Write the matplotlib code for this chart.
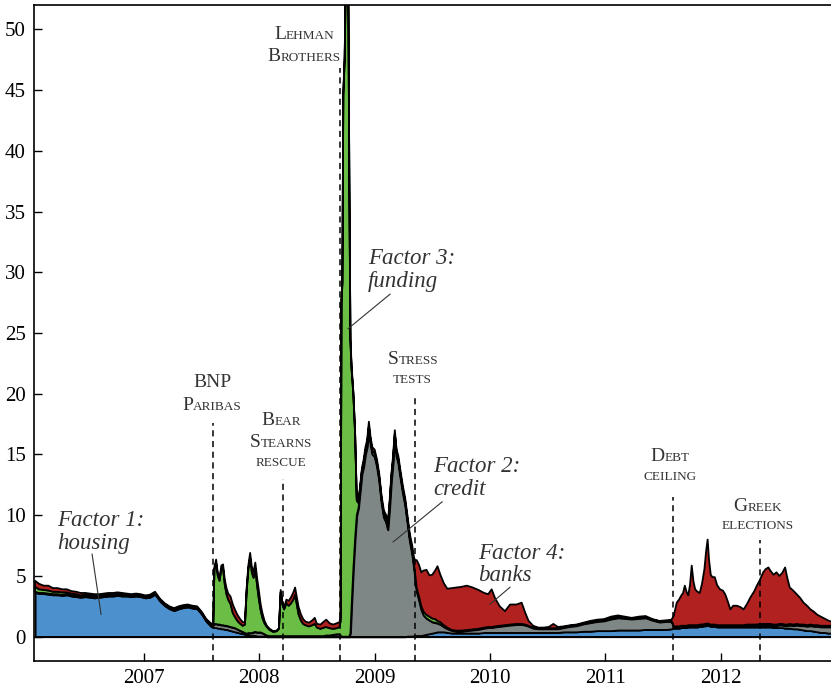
import numpy as np
import matplotlib
matplotlib.use("Agg")
import matplotlib.pyplot as plt
from matplotlib.offsetbox import TextArea, HPacker, VPacker, AnnotationBbox

plt.rcParams["font.family"] = ["Liberation Serif", "DejaVu Serif"]

# ── data (decimal years; layer thickness, stacked bottom to top) ─────────────
DATES = [
    # 2006 .. BNP
    2006.055, 2006.09, 2006.13, 2006.17, 2006.21, 2006.25, 2006.29, 2006.33, 2006.37, 2006.41,
    2006.45, 2006.49, 2006.53, 2006.57, 2006.61, 2006.65, 2006.69, 2006.73, 2006.77, 2006.81,
    2006.85, 2006.89, 2006.93, 2006.97, 2007.01, 2007.05, 2007.095, 2007.14, 2007.18, 2007.22,
    2007.26, 2007.30, 2007.34, 2007.38, 2007.42, 2007.46, 2007.50, 2007.54, 2007.58, 2007.60,
    # BNP .. Lehman
    2007.61, 2007.625, 2007.64, 2007.655, 2007.67, 2007.685, 2007.70, 2007.715, 2007.73, 2007.75,
    2007.77, 2007.79, 2007.81, 2007.83, 2007.855, 2007.875, 2007.89, 2007.905, 2007.92, 2007.935,
    2007.95, 2007.965, 2007.98, 2007.995, 2008.01, 2008.025, 2008.045, 2008.065, 2008.09, 2008.12,
    2008.15, 2008.17, 2008.185, 2008.20, 2008.215, 2008.235, 2008.255, 2008.275, 2008.295, 2008.31,
    2008.325, 2008.34, 2008.36, 2008.38, 2008.40, 2008.43, 2008.46, 2008.48, 2008.50, 2008.53,
    2008.56, 2008.58, 2008.61, 2008.64, 2008.67, 2008.695,
    # Lehman spike and credit hump
    2008.705, 2008.712, 2008.72, 2008.728, 2008.74, 2008.752, 2008.768, 2008.78, 2008.79, 2008.80,
    2008.815, 2008.83, 2008.845, 2008.86, 2008.875, 2008.89, 2008.905, 2008.92, 2008.935, 2008.95,
    2008.965, 2008.98, 2009.00, 2009.02, 2009.04, 2009.06, 2009.08, 2009.10, 2009.115, 2009.13,
    2009.145, 2009.16, 2009.175, 2009.19, 2009.205, 2009.225, 2009.245, 2009.265, 2009.285, 2009.305,
    2009.325, 2009.345,
    # stress tests .. end
    2009.365, 2009.385, 2009.405, 2009.425, 2009.45, 2009.475, 2009.50, 2009.525, 2009.545, 2009.57,
    2009.60, 2009.63, 2009.67, 2009.71, 2009.75, 2009.80, 2009.85, 2009.90, 2009.95, 2009.985,
    2010.015, 2010.045, 2010.085, 2010.13, 2010.175, 2010.23, 2010.275, 2010.305, 2010.335, 2010.375,
    2010.42, 2010.465, 2010.51, 2010.55, 2010.59, 2010.64, 2010.70, 2010.75, 2010.81, 2010.87,
    2010.93, 2010.99, 2011.05, 2011.11, 2011.17, 2011.23, 2011.29, 2011.35, 2011.41, 2011.47,
    2011.53, 2011.575, 2011.595, 2011.62, 2011.64, 2011.66, 2011.675, 2011.69, 2011.705, 2011.72,
    2011.735, 2011.75, 2011.765, 2011.78, 2011.80, 2011.82, 2011.84, 2011.86, 2011.875, 2011.888,
    2011.90, 2011.915, 2011.93, 2011.95, 2011.97, 2011.995, 2012.02, 2012.04, 2012.065, 2012.085,
    2012.11, 2012.14, 2012.17, 2012.20, 2012.23, 2012.26, 2012.29, 2012.315, 2012.34, 2012.37,
    2012.39, 2012.415, 2012.435, 2012.46, 2012.485, 2012.51, 2012.535, 2012.56, 2012.58, 2012.60,
    2012.63, 2012.66, 2012.69, 2012.72, 2012.75, 2012.78, 2012.81, 2012.84, 2012.87, 2012.90,
    2012.93, 2012.97,
]

HOUSING = [
    3.65, 3.55, 3.55, 3.50, 3.45, 3.45, 3.40, 3.45, 3.35, 3.30,
    3.25, 3.30, 3.25, 3.20, 3.25, 3.30, 3.35, 3.35, 3.40, 3.35,
    3.35, 3.30, 3.35, 3.30, 3.20, 3.25, 3.50, 2.90, 2.55, 2.30,
    2.15, 2.30, 2.40, 2.45, 2.35, 2.30, 1.85, 1.25, 0.85, 0.80,
    0.75, 0.75, 0.70, 0.70, 0.65, 0.65, 0.60, 0.60, 0.55, 0.50,
    0.45, 0.40, 0.35, 0.30, 0.25, 0.20, 0.15, 0.15, 0.10, 0.10,
    0.10, 0.10, 0.05, 0.05, 0.05, 0.05, 0.05, 0.0, 0.0, 0.0,
    0.0, 0.0, 0.0, 0.0, 0.0, 0.0, 0.0, 0.0, 0.0, 0.0,
    0.0, 0.0, 0.0, 0.0, 0.0, 0.0, 0.0, 0.0, 0.0, 0.0,
    0.0, 0.0, 0.0, 0.0, 0.0, 0.0,
    0.0, 0.0, 0.0, 0.0, 0.0, 0.0, 0.0, 0.0, 0.0, 0.0,
    0.0, 0.0, 0.0, 0.0, 0.0, 0.0, 0.0, 0.0, 0.0, 0.0,
    0.0, 0.0, 0.0, 0.0, 0.0, 0.0, 0.0, 0.0, 0.0, 0.0,
    0.0, 0.0, 0.0, 0.0, 0.0, 0.0, 0.0, 0.0, 0.05, 0.05,
    0.05, 0.10,
    0.10, 0.10, 0.10, 0.15, 0.20, 0.25, 0.30, 0.35, 0.40, 0.40,
    0.40, 0.35, 0.30, 0.30, 0.30, 0.30, 0.30, 0.30, 0.35, 0.35,
    0.35, 0.35, 0.35, 0.35, 0.35, 0.35, 0.35, 0.35, 0.35, 0.35,
    0.35, 0.35, 0.35, 0.35, 0.35, 0.40, 0.40, 0.40, 0.45, 0.45,
    0.50, 0.50, 0.50, 0.55, 0.55, 0.55, 0.55, 0.60, 0.60, 0.60,
    0.60, 0.65, 0.70, 0.70, 0.70, 0.75, 0.75, 0.75, 0.75, 0.80,
    0.80, 0.80, 0.80, 0.80, 0.80, 0.85, 0.85, 0.90, 0.90, 0.95,
    0.90, 0.85, 0.85, 0.85, 0.80, 0.80, 0.80, 0.80, 0.80, 0.80,
    0.80, 0.80, 0.80, 0.80, 0.80, 0.80, 0.80, 0.80, 0.80, 0.80,
    0.80, 0.80, 0.80, 0.75, 0.75, 0.75, 0.75, 0.70, 0.70, 0.70,
    0.65, 0.65, 0.60, 0.55, 0.50, 0.50, 0.45, 0.40, 0.35, 0.35,
    0.30, 0.30,
]

CREDIT = [
    0.05, 0.05, 0.05, 0.05, 0.05, 0.05, 0.05, 0.05, 0.05, 0.05,
    0.05, 0.05, 0.05, 0.05, 0.05, 0.05, 0.05, 0.05, 0.05, 0.05,
    0.05, 0.05, 0.05, 0.05, 0.05, 0.05, 0.05, 0.05, 0.05, 0.05,
    0.05, 0.05, 0.05, 0.05, 0.05, 0.05, 0.05, 0.05, 0.10, 0.15,
    0.30, 0.30, 0.30, 0.30, 0.30, 0.30, 0.30, 0.30, 0.30, 0.30,
    0.30, 0.30, 0.25, 0.20, 0.15, 0.10, 0.10, 0.15, 0.20, 0.20,
    0.25, 0.30, 0.30, 0.30, 0.30, 0.25, 0.15, 0.10, 0.05, 0.05,
    0.05, 0.05, 0.05, 0.05, 0.05, 0.05, 0.05, 0.05, 0.05, 0.05,
    0.05, 0.05, 0.05, 0.05, 0.05, 0.05, 0.05, 0.05, 0.05, 0.05,
    0.05, 0.10, 0.10, 0.15, 0.20, 0.20,
    0.10, 0.0, 0.0, 0.0, 0.0, 0.0, 0.0, 0.0, 0.30, 2.50,
    5.50, 8.00, 10.0, 10.6, 12.0, 13.4, 14.0, 15.0, 15.6, 17.0,
    15.8, 15.0, 14.8, 14.0, 12.8, 11.0, 9.80, 9.40, 8.80, 10.6,
    12.8, 14.3, 16.4, 14.8, 14.3, 13.0, 11.8, 10.8, 9.30, 7.80,
    6.80, 5.30,
    3.60, 2.90, 2.10, 1.60, 1.30, 1.10, 0.90, 0.80, 0.70, 0.60,
    0.40, 0.30, 0.20, 0.15, 0.15, 0.20, 0.25, 0.30, 0.35, 0.40,
    0.40, 0.45, 0.50, 0.55, 0.60, 0.65, 0.65, 0.60, 0.50, 0.35,
    0.30, 0.30, 0.30, 0.30, 0.30, 0.35, 0.45, 0.50, 0.60, 0.70,
    0.75, 0.80, 0.95, 1.00, 0.95, 0.90, 0.95, 0.95, 0.75, 0.60,
    0.65, 0.60, 0.10, 0.10, 0.10, 0.10, 0.10, 0.10, 0.10, 0.10,
    0.10, 0.10, 0.10, 0.10, 0.10, 0.10, 0.10, 0.10, 0.10, 0.10,
    0.10, 0.10, 0.10, 0.10, 0.10, 0.10, 0.10, 0.10, 0.10, 0.10,
    0.10, 0.10, 0.10, 0.10, 0.15, 0.15, 0.15, 0.15, 0.15, 0.15,
    0.15, 0.15, 0.15, 0.15, 0.15, 0.20, 0.20, 0.20, 0.20, 0.25,
    0.25, 0.30, 0.30, 0.35, 0.35, 0.40, 0.40, 0.45, 0.45, 0.45,
    0.50, 0.50,
]

FUNDING = [
    0.40, 0.30, 0.25, 0.25, 0.20, 0.20, 0.20, 0.15, 0.15, 0.15,
    0.10, 0.10, 0.10, 0.10, 0.05, 0.05, 0.05, 0.05, 0.05, 0.05,
    0.05, 0.05, 0.05, 0.05, 0.05, 0.05, 0.05, 0.05, 0.05, 0.05,
    0.05, 0.05, 0.05, 0.05, 0.05, 0.05, 0.05, 0.05, 0.05, 0.05,
    4.50, 5.00, 4.00, 3.60, 4.60, 4.70, 3.40, 2.60, 2.20, 1.90,
    1.20, 0.90, 0.70, 0.60, 0.50, 0.70, 3.50, 5.30, 6.20, 5.00,
    4.50, 5.20, 3.90, 2.80, 1.90, 1.30, 0.90, 0.70, 0.50, 0.35,
    0.40, 0.60, 3.60, 2.60, 2.20, 2.70, 2.50, 2.70, 3.00, 3.40,
    2.60, 1.80, 1.30, 1.00, 0.90, 0.80, 0.90, 1.00, 0.70, 0.60,
    0.70, 0.70, 0.60, 0.50, 0.50, 0.60,
    1.20, 27.5, 29.0, 44.5, 47.5, 56.0, 60.0, 38.0, 24.0, 19.5,
    14.5, 8.80, 1.20, 0.40, 0.30, 0.30, 0.30, 0.30, 0.30, 0.30,
    0.30, 0.30, 0.30, 0.30, 0.30, 0.30, 0.30, 0.30, 0.30, 0.30,
    0.30, 0.30, 0.30, 0.30, 0.30, 0.30, 0.30, 0.30, 0.30, 0.30,
    0.30, 0.30,
    0.30, 0.30, 0.30, 0.30, 0.30, 0.30, 0.30, 0.30, 0.20, 0.20,
    0.15, 0.10, 0.05, 0.05, 0.05, 0.05, 0.05, 0.05, 0.05, 0.05,
    0.05, 0.05, 0.05, 0.05, 0.05, 0.05, 0.05, 0.05, 0.05, 0.05,
    0.05, 0.05, 0.05, 0.05, 0.05, 0.05, 0.05, 0.05, 0.05, 0.05,
    0.05, 0.05, 0.05, 0.05, 0.05, 0.05, 0.05, 0.05, 0.05, 0.05,
    0.05, 0.05, 0.05, 0.05, 0.05, 0.05, 0.05, 0.05, 0.05, 0.05,
    0.05, 0.05, 0.05, 0.05, 0.05, 0.05, 0.05, 0.05, 0.05, 0.05,
    0.05, 0.05, 0.05, 0.05, 0.05, 0.05, 0.05, 0.05, 0.05, 0.05,
    0.05, 0.05, 0.05, 0.05, 0.05, 0.05, 0.05, 0.05, 0.10, 0.10,
    0.10, 0.10, 0.10, 0.10, 0.10, 0.10, 0.10, 0.10, 0.10, 0.10,
    0.10, 0.10, 0.10, 0.10, 0.10, 0.10, 0.10, 0.10, 0.10, 0.10,
    0.10, 0.10,
]

BANKS = [
    0.50, 0.45, 0.35, 0.40, 0.30, 0.30, 0.25, 0.25, 0.20, 0.20,
    0.20, 0.15, 0.15, 0.15, 0.15, 0.15, 0.15, 0.15, 0.15, 0.15,
    0.10, 0.10, 0.10, 0.10, 0.10, 0.10, 0.10, 0.10, 0.10, 0.10,
    0.10, 0.10, 0.10, 0.10, 0.10, 0.10, 0.10, 0.10, 0.10, 0.05,
    0.20, 0.30, 0.20, 0.20, 0.30, 0.30, 0.40, 0.50, 0.50, 0.60,
    0.70, 0.60, 0.50, 0.40, 0.30, 0.20, 0.30, 0.30, 0.40, 0.40,
    0.50, 0.50, 0.60, 0.70, 0.50, 0.40, 0.20, 0.10, 0.10, 0.05,
    0.05, 0.05, 0.20, 0.20, 0.20, 0.30, 0.40, 0.50, 0.60, 0.60,
    0.60, 0.60, 0.50, 0.40, 0.30, 0.30, 0.40, 0.50, 0.30, 0.35,
    0.50, 0.60, 0.40, 0.35, 0.40, 0.40,
    0.30, 0.30, 0.30, 0.30, 0.30, 0.30, 0.30, 0.30, 0.30, 0.30,
    0.20, 0.20, 0.20, 0.20, 0.20, 0.20, 0.30, 0.30, 0.30, 0.40,
    0.30, 0.30, 0.30, 0.30, 0.30, 0.30, 0.30, 0.30, 0.30, 0.30,
    0.30, 0.30, 0.30, 0.30, 0.30, 0.30, 0.30, 0.30, 0.30, 0.30,
    0.40, 0.60,
    2.30, 2.60, 2.80, 3.40, 3.70, 3.40, 3.60, 4.00, 4.50, 3.90,
    3.45, 3.20, 3.45, 3.55, 3.60, 3.65, 3.45, 3.20, 2.85, 2.70,
    3.10, 2.30, 1.60, 1.15, 1.65, 1.60, 1.75, 1.00, 0.40, 0.15,
    0.05, 0.05, 0.10, 0.35, 0.10, 0.05, 0.05, 0.05, 0.05, 0.10,
    0.10, 0.10, 0.15, 0.15, 0.10, 0.05, 0.10, 0.10, 0.05, 0.05,
    0.05, 0.10, 0.90, 1.95, 2.20, 2.50, 2.70, 3.30, 2.80, 2.45,
    3.30, 4.90, 3.60, 2.95, 2.75, 2.60, 3.40, 4.50, 6.00, 6.90,
    5.30, 4.10, 3.90, 3.90, 3.30, 2.95, 2.85, 2.55, 1.90, 1.30,
    1.60, 1.60, 1.50, 1.30, 1.70, 2.25, 2.70, 3.20, 3.60, 4.25,
    4.50, 4.65, 4.35, 4.10, 4.30, 3.95, 4.20, 4.70, 3.80, 3.00,
    2.80, 2.45, 2.20, 1.80, 1.60, 1.25, 1.10, 0.85, 0.75, 0.60,
    0.45, 0.30,
]

EVENTS = [2007.60, 2008.205, 2008.70, 2009.35, 2011.585, 2012.34]
EVENT_TOPS = [17.6, 13.0, 46.8, 19.95, 11.5, 8.0]
EVENT_LABELS = [["BNP", "Paribas"], ["Bear", "Stearns", "rescue"],
                ["Lehman", "Brothers"], ["Stress", "tests"],
                ["Debt", "ceiling"], ["Greek", "elections"]]
EVENT_LABEL_POS = [(2007.59, 18.35), (2008.19, 13.8), (2008.39, 47.05),
                   (2009.33, 20.65), (2011.56, 12.65), (2012.325, 8.6)]

FACTOR_TEXT = ["Factor 1:\nhousing", "Factor 3:\nfunding",
               "Factor 2:\ncredit", "Factor 4:\nbanks"]
FACTOR_TEXT_POS = [(2006.245, 10.4), (2008.943, 31.97),
                   (2009.507, 14.85), (2009.897, 7.75)]
FACTOR_POINTERS = [((2006.549, 6.8), (2006.627, 1.84)),
                   ((2009.134, 28.2), (2008.769, 25.35)),
                   ((2009.585, 11.1), (2009.16, 7.8)),
                   ((2010.174, 4.07), (2010.0, 2.67))]

COLORS = ["#4c91cd", "#7e8786", "#6abd45", "#b1211f"]
TEXT_GREY = "#333333"

for name, arr in [("housing", HOUSING), ("credit", CREDIT),
                  ("funding", FUNDING), ("banks", BANKS)]:
    assert len(arr) == len(DATES), (name, len(arr), len(DATES))


def small_caps(lines, big=14, small=9.5, color=TEXT_GREY):
    rows = []
    for line in lines:
        parts = []
        for word in line.split():
            if word.isupper():
                parts.append(TextArea(word, textprops=dict(size=big, color=color)))
            elif word[0].isupper():
                parts.append(TextArea(word[0], textprops=dict(size=big, color=color)))
                parts.append(TextArea(word[1:].upper(),
                                      textprops=dict(size=small, color=color)))
            else:
                parts.append(TextArea(word.upper(),
                                      textprops=dict(size=small, color=color)))
        rows.append(HPacker(children=parts, align="baseline", pad=0, sep=0))
    return VPacker(children=rows, align="center", pad=0, sep=4)


fig = plt.figure(figsize=(8.31, 6.92), dpi=100)
ax = fig.add_axes([0.041, 0.0448, 0.959, 0.948])

t = np.array(DATES)
ax.stackplot(t, HOUSING, CREDIT, FUNDING, BANKS, colors=COLORS,
             edgecolor="black", linewidth=1.3, zorder=2)
ax.axhline(0, color="black", lw=1.3, zorder=3)

for x, top in zip(EVENTS, EVENT_TOPS):
    ax.vlines(x, -2, top, colors="black", linestyles=(0, (4, 3)), lw=1.1, zorder=4)

for lines, (x, y) in zip(EVENT_LABELS, EVENT_LABEL_POS):
    ab = AnnotationBbox(small_caps(lines), (x, y), xycoords="data",
                        box_alignment=(0.5, 0), frameon=False, pad=0,
                        annotation_clip=False)
    ax.add_artist(ab)

for txt, (x, y) in zip(FACTOR_TEXT, FACTOR_TEXT_POS):
    ax.text(x, y, txt, style="italic", fontsize=16.5, color=TEXT_GREY,
            ha="left", va="top", linespacing=1.12, zorder=5)

for (x0, y0), (x1, y1) in FACTOR_POINTERS:
    ax.plot([x0, x1], [y0, y1], color=TEXT_GREY, lw=0.8, zorder=5)

ax.set_xlim(2006.046, 2012.958)
ax.set_ylim(-2, 52)
ax.set_xticks([2007, 2008, 2009, 2010, 2011, 2012])
ax.set_xticklabels(["2007", "2008", "2009", "2010", "2011", "2012"])
ax.set_yticks(range(0, 51, 5))
ax.tick_params(direction="in", length=6, width=1, labelsize=15,
               top=False, right=False, pad=6)
ax.spines["right"].set_visible(False)
for s in ["left", "bottom", "top"]:
    ax.spines[s].set_linewidth(1.2)

fig.savefig("out.png", dpi=100)
